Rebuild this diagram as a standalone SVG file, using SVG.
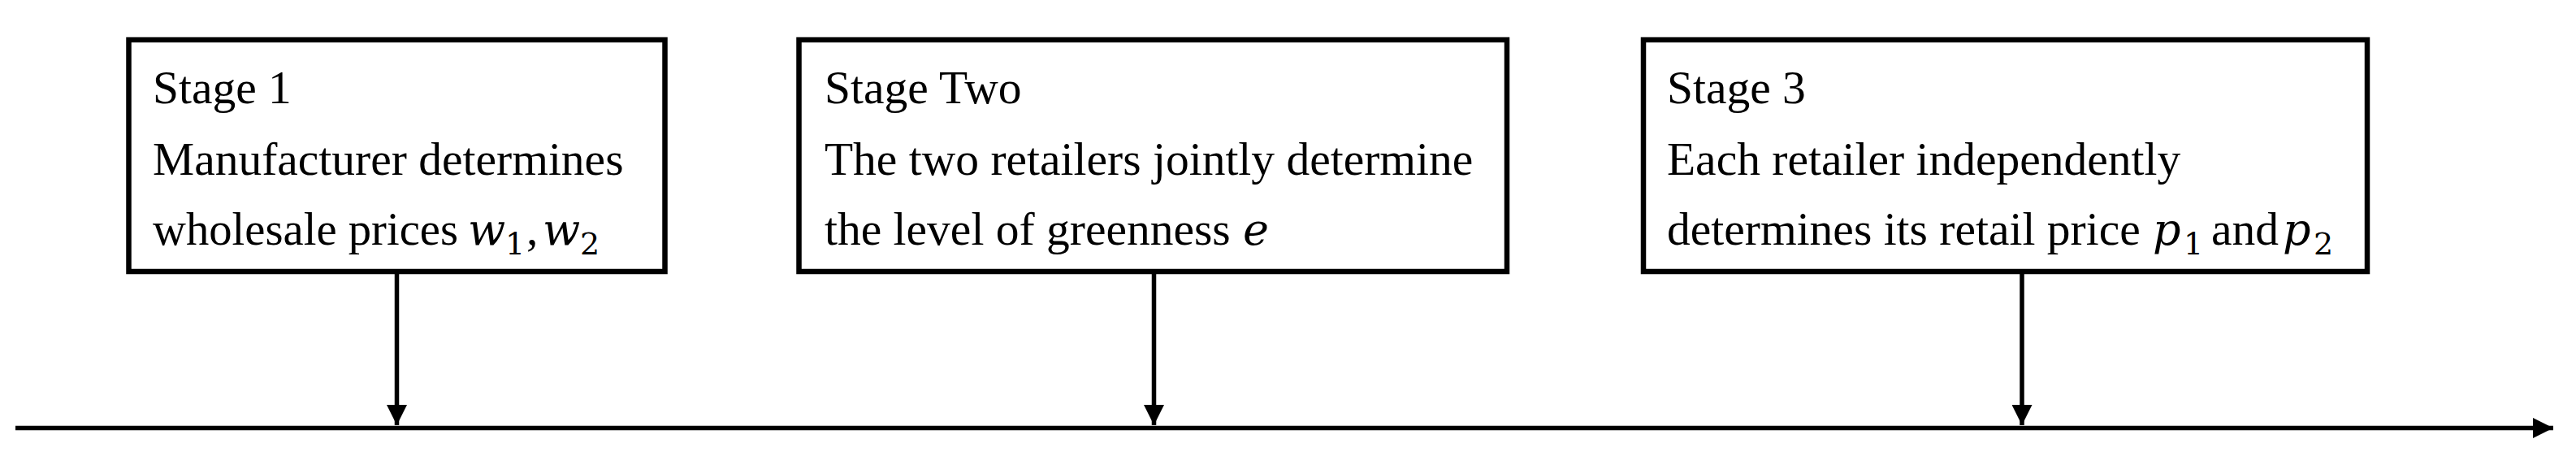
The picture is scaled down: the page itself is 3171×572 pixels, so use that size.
<svg xmlns="http://www.w3.org/2000/svg" width="3171" height="572" viewBox="0 0 3171 572">
<style>
.box{fill:#fff;stroke:#000;stroke-width:6.5}
.t{font-family:"Liberation Serif","Times New Roman",serif;font-size:57.5px;fill:#000}
.m{font-family:"DejaVu Serif","Liberation Serif",serif;font-style:italic;font-size:54px}
.sub{font-family:"DejaVu Serif","Liberation Serif",serif;font-size:38px}
.ln{stroke:#000;stroke-width:5.5;fill:none}
</style>
<defs>
<marker id="ah" viewBox="0 0 25 25" refX="25" refY="12.5" markerWidth="25" markerHeight="25" markerUnits="userSpaceOnUse" orient="auto">
<path d="M0,0 L25,12.5 L0,25 Z" fill="#000"/>
</marker>
</defs>
<rect width="3171" height="572" fill="#fff"/>
<g id="connectors">
<line class="ln" x1="19" y1="526.5" x2="3143" y2="526.5" marker-end="url(#ah)"/>
<line class="ln" x1="488.5" y1="337" x2="488.5" y2="523" marker-end="url(#ah)"/>
<line class="ln" x1="1420.5" y1="337" x2="1420.5" y2="523" marker-end="url(#ah)"/>
<line class="ln" x1="2489" y1="337" x2="2489" y2="523" marker-end="url(#ah)"/>
</g>
<g id="stage1">
<rect class="box" x="158.5" y="49" width="660" height="285"/>
<text class="t" x="188" y="127">Stage 1</text>
<text class="t" x="188" y="215">Manufacturer determines</text>
<text class="t" x="188" y="301" textLength="376" lengthAdjust="spacingAndGlyphs">wholesale prices</text>
<text class="t" x="576" y="301"><tspan class="m">w</tspan><tspan class="sub" x="622" dy="12">1</tspan><tspan dy="-12" x="648">,</tspan><tspan class="m" x="668">w</tspan><tspan class="sub" x="714" dy="12">2</tspan></text>
</g>
<g id="stage2">
<rect class="box" x="983.5" y="49" width="871.5" height="285"/>
<text class="t" x="1015" y="127">Stage Two</text>
<text class="t" x="1015" y="215">The two retailers jointly determine</text>
<text class="t" x="1015" y="301">the level of greenness <tspan class="m" x="1530">e</tspan></text>
</g>
<g id="stage3">
<rect class="box" x="2023" y="49" width="891" height="285"/>
<text class="t" x="2052" y="127">Stage 3</text>
<text class="t" x="2052" y="215">Each retailer independently</text>
<text class="t" x="2052" y="301">determines its retail price <tspan class="m" x="2650">p</tspan><tspan class="sub" x="2688" dy="12">1</tspan><tspan dy="-12" x="2722">and</tspan><tspan class="m" x="2810">p</tspan><tspan class="sub" x="2848" dy="12">2</tspan></text>
</g>
</svg>
